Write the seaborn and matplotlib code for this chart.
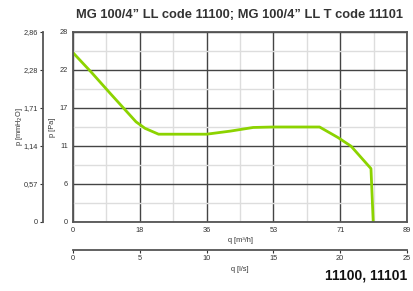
import numpy as np
import pandas as pd
import matplotlib
matplotlib.use("Agg")
import matplotlib.pyplot as plt
import seaborn as sns

# Data
q_m3h = [0.0, 5.0, 10.0, 16.8, 19.2, 22.8, 35.6, 42.0, 48.0, 53.3, 65.7, 70.6, 74.1, 79.4, 80.0]
p_pa = [24.95, 22.0, 18.9, 14.76, 13.8, 12.94, 12.94, 13.4, 13.93, 14.0, 14.0, 12.45, 11.17, 7.87, 0.0]

x_tick_labels = ["0", "18", "36", "53", "71", "89"]
y_tick_labels = ["0", "6", "11", "17", "22", "28"]
mm_tick_labels = ["0", "0,57", "1,14", "1,71", "2,28", "2,86"]
ls_tick_labels = ["0", "5", "10", "15", "20", "25"]

title = "MG 100/4\u201d LL code 11100; MG 100/4\u201d LL T code 11101"
codes = "11100, 11101"

sns.set_theme(style="white")
plt.rcParams['font.family'] = ['Liberation Sans', 'DejaVu Sans']

W, H = 413, 291
fig = plt.figure(figsize=(W / 100, H / 100), dpi=100)

L, R, T, B = 73, 407, 32, 222
ax = fig.add_axes([L / W, 1 - B / H, (R - L) / W, (B - T) / H])

df = pd.DataFrame({"q": q_m3h, "p": p_pa})
sns.lineplot(data=df, x="q", y="p", ax=ax, color="#8cd300", linewidth=2.0, sort=False)

xmax, ymax = 89, 28
ax.set_xlim(0, xmax)
ax.set_ylim(0, ymax)
xt = np.linspace(0, xmax, len(x_tick_labels))
yt = np.linspace(0, ymax, len(y_tick_labels))
ax.set_xticks(xt)
ax.set_xticklabels(x_tick_labels)
ax.set_yticks(yt)
ax.set_yticklabels(y_tick_labels)
ax.set_xticks(np.linspace(0, xmax, 2 * len(x_tick_labels) - 1), minor=True)
ax.set_yticks(np.linspace(0, ymax, 2 * len(y_tick_labels) - 1), minor=True)
ax.grid(which="minor", color="#dddddd", linewidth=1.0)
ax.grid(which="major", color="#444444", linewidth=1.0)
ax.set_axisbelow(True)
for s in ax.spines.values():
    s.set_color("#555555")
    s.set_linewidth(1.3)
ax.tick_params(axis="both", which="major", labelsize=5.3, colors="#333333", length=2, width=0.8, pad=1.5, direction="out")
ax.tick_params(which="minor", length=0)
ax.set_xlabel("q [m\u00b3/h]", fontsize=5.3, color="#333333", labelpad=2)
ax.set_ylabel("p [Pa]", fontsize=5.3, color="#333333")
ax.yaxis.set_label_coords(56 / W, 1 - 127 / H, transform=fig.transFigure)

# Secondary left axis (mmH2O)
axl = fig.add_axes([43 / W, 1 - B / H, 0.0001, (B - T) / H])
axl.set_ylim(0, 2.86)
axl.set_yticks(np.linspace(0, 2.86, len(mm_tick_labels)))
axl.set_yticklabels(mm_tick_labels)
axl.set_xticks([])
for k in ["top", "right", "bottom"]:
    axl.spines[k].set_visible(False)
axl.spines["left"].set_color("#555555")
axl.spines["left"].set_linewidth(1.3)
axl.patch.set_alpha(0)
axl.tick_params(axis="y", labelsize=5.3, colors="#333333", length=2, width=0.8, pad=1.5, left=True)
axl.set_ylabel("p [mmH$_2$O]", fontsize=5.3, color="#333333")
axl.yaxis.set_label_coords(25 / W, 1 - 127 / H, transform=fig.transFigure)

# Secondary bottom axis (l/s)
axb = fig.add_axes([L / W, 1 - 250 / H, (R - L) / W, 0.0001])
axb.set_xlim(0, 25)
axb.set_xticks(np.linspace(0, 25, len(ls_tick_labels)))
axb.set_xticklabels(ls_tick_labels)
axb.set_yticks([])
for k in ["top", "right", "left"]:
    axb.spines[k].set_visible(False)
axb.spines["bottom"].set_color("#555555")
axb.spines["bottom"].set_linewidth(1.3)
axb.patch.set_alpha(0)
axb.tick_params(axis="x", labelsize=5.3, colors="#333333", length=2, width=0.8, pad=1.5, bottom=True)
axb.set_xlabel("q [l/s]", fontsize=5.3, color="#333333", labelpad=3)

fig.text(240 / W, 1 - 15 / H, title, ha="center", va="center", fontsize=9.3, fontweight="bold", color="#333333")
fig.text(407 / W, 1 - 276 / H, codes, ha="right", va="center", fontsize=10, fontweight="bold", color="#111111")

fig.savefig("out.png", dpi=100)
